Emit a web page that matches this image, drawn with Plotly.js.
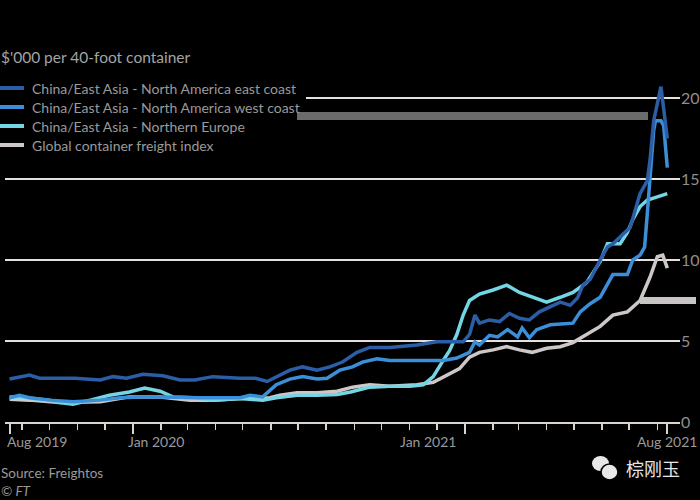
<!DOCTYPE html>
<html>
<head>
<meta charset="utf-8">
<script src="https://cdn.plot.ly/plotly-3.0.1.min.js"></script>
<style>
  html, body { margin: 0; padding: 0; background: #000; }
  #chart { width: 700px; height: 500px; }
</style>
</head>
<body>
<div id="chart"></div>
<script>
// ---------------- DATA ($'000 per 40-foot container) ----------------
const seriesNames = [
  "China/East Asia - North America east coast",
  "China/East Asia - North America west coast",
  "China/East Asia - Northern Europe",
  "Global container freight index"
];

const eastCoastDates = ["2019-08-18","2019-08-29","2019-09-09","2019-09-20","2019-10-12","2019-10-29","2019-11-26","2019-12-10","2019-12-25","2020-01-12","2020-02-03","2020-02-22","2020-03-09","2020-03-29","2020-04-28","2020-05-15","2020-05-28","2020-06-11","2020-06-22","2020-07-06","2020-07-22","2020-08-05","2020-08-19","2020-09-04","2020-09-18","2020-10-10","2020-11-09","2020-12-01","2020-12-30","2021-01-06","2021-01-12","2021-01-17","2021-01-28","2021-02-08","2021-02-19","2021-03-02","2021-03-13","2021-03-24","2021-04-05","2021-04-16","2021-04-27","2021-05-05","2021-05-11","2021-05-19","2021-05-30","2021-06-07","2021-06-13","2021-06-21","2021-07-02","2021-07-13","2021-07-21","2021-07-24","2021-07-28","2021-08-05","2021-08-12"];
const eastCoastValues = [2.65,2.75,2.9,2.7,2.7,2.7,2.6,2.8,2.7,2.95,2.85,2.6,2.6,2.8,2.7,2.7,2.5,2.9,3.2,3.4,3.2,3.4,3.7,4.3,4.6,4.6,4.75,4.95,4.95,5.4,6.6,6.1,6.3,6.2,6.7,6.4,6.3,6.8,7.1,7.4,7.2,7.65,8.45,8.8,10.0,10.8,11.0,11.4,12.0,14.1,14.9,16.2,18.6,20.7,17.5];

const westCoastDates = ["2019-08-18","2019-08-29","2019-09-09","2019-10-01","2019-10-27","2019-11-26","2019-12-18","2020-01-08","2020-01-31","2020-02-22","2020-03-15","2020-04-06","2020-04-28","2020-05-09","2020-05-23","2020-06-07","2020-06-22","2020-07-06","2020-07-22","2020-08-02","2020-08-16","2020-08-30","2020-09-10","2020-09-26","2020-10-10","2020-11-09","2020-12-08","2020-12-23","2021-01-06","2021-01-12","2021-01-17","2021-01-28","2021-02-06","2021-02-17","2021-02-28","2021-03-05","2021-03-13","2021-03-21","2021-04-05","2021-04-30","2021-05-08","2021-05-19","2021-05-30","2021-06-06","2021-06-13","2021-06-29","2021-07-05","2021-07-13","2021-07-18","2021-07-21","2021-07-24","2021-07-28","2021-07-30","2021-08-05","2021-08-08","2021-08-12"];
const westCoastValues = [1.5,1.65,1.5,1.35,1.25,1.35,1.5,1.55,1.55,1.5,1.5,1.5,1.5,1.65,1.55,2.3,2.65,2.8,2.65,2.7,3.2,3.4,3.7,3.9,3.8,3.8,3.8,3.95,4.3,4.95,4.75,5.35,5.25,5.7,5.25,5.8,5.2,5.7,6.0,6.1,6.8,7.3,7.7,8.4,9.1,9.1,10.0,10.3,10.8,12.9,14.9,18.0,18.6,18.6,18.3,15.7];

const europeDates = ["2019-08-18","2019-08-29","2019-09-13","2019-10-01","2019-10-12","2019-10-27","2019-11-15","2019-12-06","2019-12-28","2020-01-14","2020-01-31","2020-02-14","2020-03-07","2020-03-29","2020-04-28","2020-05-23","2020-06-07","2020-06-30","2020-07-22","2020-08-13","2020-08-28","2020-09-18","2020-10-10","2020-11-01","2020-11-16","2020-11-27","2020-12-08","2020-12-15","2020-12-23","2020-12-30","2021-01-06","2021-01-17","2021-02-01","2021-02-16","2021-03-02","2021-03-16","2021-04-01","2021-04-16","2021-04-30","2021-05-15","2021-05-30","2021-06-07","2021-06-21","2021-06-29","2021-07-05","2021-07-13","2021-07-21","2021-08-01","2021-08-12"];
const europeValues = [1.55,1.55,1.45,1.35,1.2,1.1,1.35,1.65,1.85,2.1,1.9,1.55,1.5,1.35,1.45,1.35,1.5,1.65,1.65,1.7,1.85,2.15,2.2,2.2,2.3,2.8,3.8,4.4,5.4,6.6,7.5,7.9,8.15,8.45,8.0,7.7,7.4,7.7,8.0,8.6,9.9,11.0,11.0,11.7,12.5,13.3,13.7,13.9,14.1];

const globalDates = ["2019-08-18","2019-09-09","2019-10-12","2019-11-26","2019-12-28","2020-01-31","2020-03-04","2020-03-31","2020-04-28","2020-05-31","2020-06-11","2020-06-30","2020-07-22","2020-08-13","2020-08-30","2020-09-18","2020-10-10","2020-11-09","2020-11-27","2020-12-15","2020-12-26","2021-01-06","2021-01-17","2021-02-01","2021-02-16","2021-03-02","2021-03-16","2021-04-01","2021-04-16","2021-04-30","2021-05-11","2021-05-30","2021-06-13","2021-06-29","2021-07-13","2021-07-24","2021-08-01","2021-08-07","2021-08-12"];
const globalValues = [1.4,1.35,1.2,1.25,1.55,1.55,1.35,1.35,1.45,1.5,1.65,1.8,1.8,1.9,2.15,2.3,2.2,2.3,2.45,3.0,3.3,4.0,4.3,4.45,4.65,4.45,4.3,4.55,4.65,4.9,5.25,5.9,6.6,6.8,7.5,8.95,10.2,10.3,9.5];

const yTickVals = [0, 5, 10, 15, 20];
const xMajorTicks = ["2019-08-18", "2020-01-01", "2021-01-01", "2021-08-12"];
const xTickLabels = ["Aug 2019", "Jan 2020", "Jan 2021", "Aug 2021"];
const titleText = "$'000 per 40-foot container";
const sourceText = "Source: Freightos";
const creditText = "© FT";
const watermarkText = "棕刚玉";

// ---------------- STYLE / LAYOUT ----------------
const colors = ["#2b5ea6", "#3b8fd8", "#74d5e4", "#cdc8c7"];
const W = 700, H = 500;
const M = { l: 5, r: 20, t: 80, b: 78, autoexpand: false };
const PW = W - M.l - M.r, PH = H - M.t - M.b;
const px = x => (x - M.l) / PW;           // pixel x -> paper x
const py = y => (H - M.b - y) / PH;       // pixel y -> paper y
const FONT = "Lato, 'Open Sans', sans-serif";
const grey = "#9a9a9a";

const mk = (d, v, i) => ({
  type: "scatter", mode: "lines", x: d, y: v, name: seriesNames[i],
  line: { color: colors[i], width: 3.5 }, hoverinfo: "skip", showlegend: false
});

// draw global at bottom, east coast on top
const data = [
  mk(globalDates, globalValues, 3),
  mk(europeDates, europeValues, 2),
  mk(westCoastDates, westCoastValues, 1),
  mk(eastCoastDates, eastCoastValues, 0)
];

const labelPos = [
  { x: 5, anchor: "left" },
  { x: 126, anchor: "left" },
  { x: 458, anchor: "right" },
  { x: 699, anchor: "right" }
];
const legendRowY = [88, 107, 126, 145];

const annotations = xTickLabels.map((t, i) => ({
  text: t, xref: "paper", yref: "paper", x: px(labelPos[i].x), y: py(441),
  xanchor: labelPos[i].anchor, yanchor: "middle", showarrow: false,
  font: { family: FONT, size: 14, color: grey }
})).concat(seriesNames.map((n, i) => ({
  text: n, xref: "paper", yref: "paper", x: px(30), y: py(legendRowY[i]),
  xanchor: "left", yanchor: "middle", showarrow: false,
  font: { family: FONT, size: 14, color: grey }
}))).concat([
  { text: titleText, xref: "paper", yref: "paper", x: px(-1), y: py(57), xanchor: "left", yanchor: "middle",
    showarrow: false, font: { family: FONT, size: 15.5, color: "#a4a4a4" } },
  { text: sourceText, xref: "paper", yref: "paper", x: px(-1), y: py(473), xanchor: "left", yanchor: "middle",
    showarrow: false, font: { family: FONT, size: 13.5, color: grey } },
  { text: "<i>" + creditText + "</i>", xref: "paper", yref: "paper", x: px(-1), y: py(491), xanchor: "left", yanchor: "middle",
    showarrow: false, font: { family: FONT, size: 13.5, color: grey } },
  { text: watermarkText, xref: "paper", yref: "paper", x: px(624), y: py(468), xanchor: "left", yanchor: "middle",
    showarrow: false, font: { family: "'Noto Sans CJK SC', sans-serif", size: 18, color: "#e6e6e6" } }
]);

const shapes = [
  // black legend backdrop that hides the left part of the 20 gridline
  { type: "rect", xref: "paper", yref: "paper", x0: px(0), x1: px(306), y0: py(155), y1: py(78),
    fillcolor: "#000", line: { width: 0 }, layer: "above" },
  // stray grey bars visible in the reference image
  { type: "rect", xref: "paper", yref: "paper", x0: px(297), x1: px(648), y0: py(120), y1: py(112),
    fillcolor: "#6b6b6b", line: { width: 0 }, layer: "above" },
  { type: "rect", xref: "paper", yref: "paper", x0: px(640), x1: px(696), y0: py(304), y1: py(297),
    fillcolor: "#c9c4c4", line: { width: 0 }, layer: "above" },
  // watermark icon
  { type: "circle", xref: "paper", yref: "paper", x0: px(592), x1: px(609), y0: py(471), y1: py(456),
    fillcolor: "#e8e8e8", line: { width: 0 } },
  { type: "circle", xref: "paper", yref: "paper", x0: px(601), x1: px(618), y0: py(480), y1: py(464),
    fillcolor: "#e8e8e8", line: { color: "#000", width: 1.5 } }
].concat(seriesNames.map((n, i) => ({
  // legend keys
  type: "line", xref: "paper", yref: "paper", x0: px(-1), x1: px(24), y0: py(legendRowY[i]), y1: py(legendRowY[i]),
  line: { color: colors[i], width: 4 }, layer: "above"
})));

const layout = {
  width: W, height: H,
  margin: M,
  paper_bgcolor: "#000", plot_bgcolor: "#000",
  font: { family: FONT, color: grey },
  showlegend: false,
  xaxis: {
    type: "date",
    range: ["2019-08-13", "2021-08-26"],
    showgrid: false, zeroline: false,
    showline: true, linecolor: "#d9d3d0", linewidth: 2,
    tickmode: "array", tickvals: xMajorTicks, showticklabels: false,
    ticks: "outside", ticklen: 10, tickwidth: 2, tickcolor: "#d9d3d0",
    minor: { ticks: "outside", dtick: "M1", tick0: "2019-09-01", ticklen: 6, tickwidth: 1.5, tickcolor: "#d9d3d0", showgrid: false },
    fixedrange: true
  },
  yaxis: {
    side: "right", range: [0, PH / 16.2],
    tickmode: "array", tickvals: yTickVals,
    showgrid: true, gridcolor: "#e6e0dd", gridwidth: 2,
    zeroline: false, showline: false, ticks: "",
    tickfont: { family: FONT, size: 16, color: "#8e8e8e" },
    fixedrange: true
  },
  annotations: annotations,
  shapes: shapes
};

Plotly.newPlot("chart", data, layout, { staticPlot: true, displayModeBar: false });
</script>
</body>
</html>
